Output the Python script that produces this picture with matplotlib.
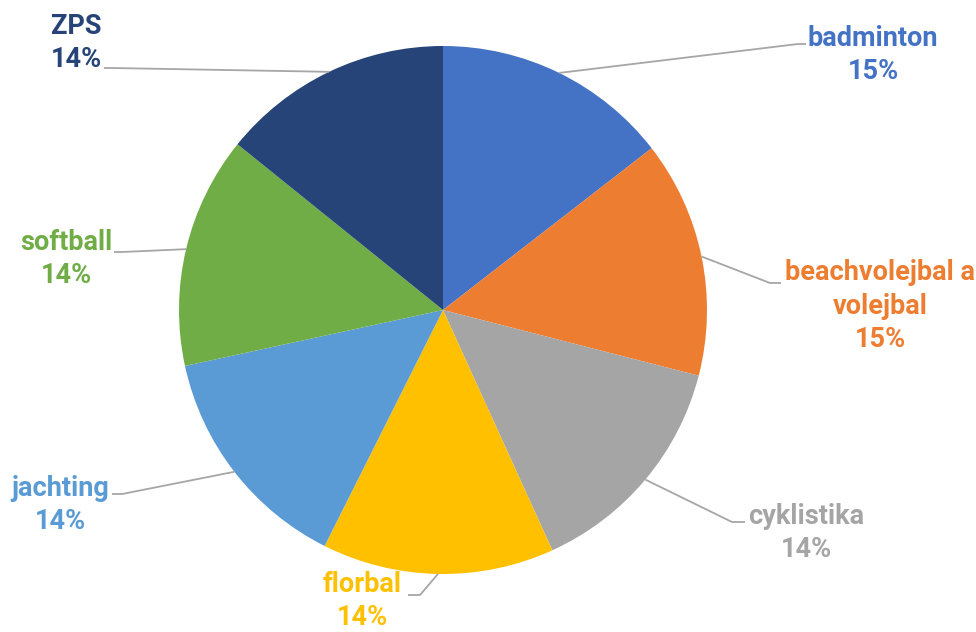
import numpy as np
import matplotlib.pyplot as plt

plt.rcParams['font.family'] = ['Roboto', 'DejaVu Sans']

sports = ['badminton', 'beachvolejbal a\nvolejbal', 'cyklistika', 'florbal',
          'jachting', 'softball', 'ZPS']
counts = [48, 48, 47, 47, 47, 47, 47]
colors = ['#4472C4', '#ED7D31', '#A5A5A5', '#FFC000', '#5B9BD5', '#70AD47', '#264478']

W, H = 976, 632
cx, cy, r = 443, 310, 264

# text centres and leader line (elbow, end), in pixels, y measured from top
label_pos = [(873, 55), (880, 306), (806, 533), (362, 601), (60, 505), (66, 259), (76, 43)]
leaders = [((798, 44), (806, 44)),
           ((770, 283), (781, 283)),
           ((732, 522), (745, 522)),
           ((420, 595), (408, 595)),
           ((122, 494), (112, 494)),
           ((122, 252), (114, 252)),
           ((112, 68), (104, 68))]

fig = plt.figure(figsize=(W / 100, H / 100), dpi=100)
ax = fig.add_axes([0, 0, 1, 1])

wedges, _ = ax.pie(counts, colors=colors, startangle=90, counterclock=False,
                   center=(cx, H - cy), radius=r, wedgeprops=dict(linewidth=0))
ax.set_xlim(0, W)
ax.set_ylim(0, H)
ax.set_aspect('equal')
ax.axis('off')

total = sum(counts)
for w, name, c, col, (tx, ty), (elb, end) in zip(wedges, sports, counts, colors,
                                                 label_pos, leaders):
    mid = np.deg2rad((w.theta1 + w.theta2) / 2)
    sx = cx + r * np.cos(mid)
    sy = (H - cy) + r * np.sin(mid)
    ax.plot([sx, elb[0], end[0]], [sy, H - elb[1], H - end[1]],
            color='#A6A6A6', lw=1.3, solid_capstyle='butt')
    pct = int(100 * c / total + 0.5)
    ax.text(tx, H - ty, f'{name}\n{pct}%', color=col, fontsize=19.5,
            fontweight='bold', ha='center', va='center', linespacing=1.3)

fig.savefig('out.png', dpi=100)
